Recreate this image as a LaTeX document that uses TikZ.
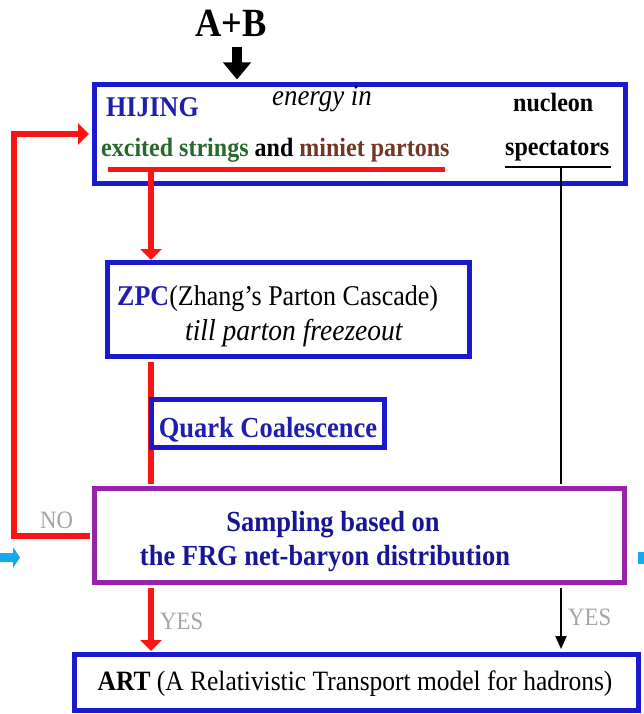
\documentclass[tikz,border=0pt]{standalone}
\usepackage{fontspec}
\setmainfont[FakeStretch=0.91]{Liberation Serif}
\usetikzlibrary{arrows.meta}

\definecolor{boxblue}{RGB}{25,25,205}
\definecolor{textblue}{RGB}{30,30,175}
\definecolor{navy}{RGB}{22,22,150}
\definecolor{boxpurple}{RGB}{150,35,170}
\definecolor{flowred}{RGB}{250,20,20}
\definecolor{stringgreen}{RGB}{40,105,45}
\definecolor{partonbrown}{RGB}{115,55,35}
\definecolor{labelgray}{RGB}{165,165,165}
\definecolor{slidecyan}{RGB}{20,170,235}

\newcommand{\sizept}[1]{\fontsize{#1}{#1}\selectfont}

\begin{document}
\begin{tikzpicture}[x=1pt,y=-1pt,
    flowbox/.style={draw=boxblue, line width=5pt, fill=white, inner sep=0pt},
    boxtext/.style={anchor=base west, inner sep=0pt},
    midtext/.style={anchor=base, inner sep=0pt},
    redflow/.style={draw=flowred, line width=6pt},
    redhead/.style={-{Triangle[width=21pt,length=11pt]}},
    answer/.style={anchor=base west, inner sep=0pt, text=labelgray, font=\sizept{25}}]

\useasboundingbox (0,0) rectangle (644,714);

% boxes
\node[flowbox, minimum width=531pt, minimum height=99pt] (hijing) at (360,134) {};
\node[flowbox, minimum width=362pt, minimum height=94pt] (zpc) at (288.5,309.5) {};
\node[flowbox, draw=boxpurple, minimum width=530pt, minimum height=94pt] (sampling) at (359.5,535.5) {};
\node[flowbox, minimum width=564pt, minimum height=56pt] (art) at (356.5,682.5) {};

% top input
\node[midtext, font=\sizept{40}\bfseries] (ab) at (231,37) {A+B};
\coordinate (abfoot) at (237,47);
\draw[line width=10pt, -{Triangle[width=27pt,length=17pt]}, shorten >=2.5pt]
    (abfoot) -- (abfoot |- hijing.north);

% HIJING contents
\node[boxtext, text=textblue, font=\sizept{28.6}\bfseries] (hijingname) at (106,117) {HIJING};
\node[boxtext, font=\sizept{29.5}\itshape] (energy) at (272,106) {energy in};
\node[boxtext, font=\sizept{26.4}\bfseries] (nucleon) at (513,112) {nucleon};
\node[boxtext, font=\sizept{26.4}\bfseries] (strings) at (101,157)
    {\textcolor{stringgreen}{excited strings} and \textcolor{partonbrown}{miniet partons}};
\node[boxtext, font=\sizept{26.4}\bfseries] (spectators) at (505,156) {spectators};

\coordinate (partons) at (151,170);
\coordinate (spect) at (561,167);
\draw[flowred, line width=5pt] (108,170) -- (445,170);
\draw[line width=2.5pt] (505,167) -- (611,167);

% parton branch
\draw[redflow, redhead] (partons) -- (zpc.north -| partons);
\draw[redflow, shorten <=2.5pt, shorten >=2.5pt] (zpc.south -| partons) -- (sampling.north -| partons);
\draw[redflow, redhead, shorten <=2.5pt, shorten >=1pt] (sampling.south -| partons) -- (art.north -| partons);

% spectator branch
\draw[line width=2pt, shorten >=2.5pt] (spect) -- (spect |- sampling.north);
\draw[line width=2pt, -{Triangle[width=11pt,length=13pt]}, shorten <=2.5pt, shorten >=3pt]
    (spect |- sampling.south) -- (spect |- art.north);

% rejected sample goes back
\coordinate (noturn) at (13.5,535.5);
\draw[redflow, redhead, shorten <=2.5pt, shorten >=3pt]
    (sampling.west) -- (noturn) |- (hijing.west);

% ZPC contents
\node[boxtext, font=\sizept{28.6}] (zpcname) at (117,305)
    {\textcolor{textblue}{\bfseries ZPC}(Zhang's Parton Cascade)};
\node[boxtext, font=\sizept{30.2}\itshape] (freeze) at (185,340) {till parton freezeout};

% coalescence
\node[flowbox, line width=4.5pt, minimum width=233pt, minimum height=48pt] (quark) at (268,423.5) {};
\node[midtext, text=textblue, font=\sizept{29.1}\bfseries] (quarktext) at (268,437) {Quark Coalescence};

% sampling contents
\node[midtext, text=navy, font=\sizept{29.1}\bfseries] (sampone) at (333,531) {Sampling based on};
\node[midtext, text=navy, font=\sizept{29.1}\bfseries] (samptwo) at (325,565) {the FRG net-baryon distribution};

% ART contents
\node[midtext, font=\sizept{28}] (arttext) at (355,690)
    {\textbf{ART} (A Relativistic Transport model for hadrons)};

% answers
\node[answer] (no) at (40,528) {NO};
\node[answer] (yesleft) at (160,629) {YES};
\node[answer] (yesright) at (568,625) {YES};

% slide marks
\fill[slidecyan] (0,553) -- (13,553) -- (13,547) -- (20,557.5) -- (13,568) -- (13,562) -- (0,562) -- cycle;
\fill[slidecyan] (638,552) rectangle (644,564);

\end{tikzpicture}
\end{document}
